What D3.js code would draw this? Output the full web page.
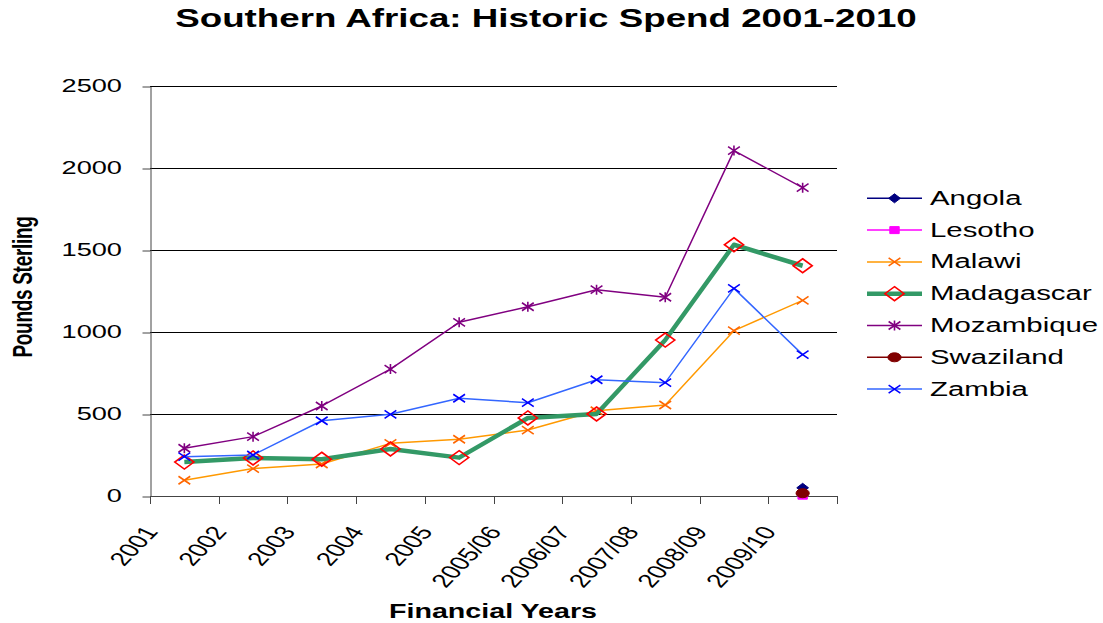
<!DOCTYPE html>
<html>
<head>
<meta charset="utf-8">
<script src="https://cdn.jsdelivr.net/npm/d3@7"></script>
<style>
  html, body { margin: 0; padding: 0; background: #fff; }
  svg { display: block; font-family: "Liberation Sans", Arial, sans-serif; }
</style>
</head>
<body>
<svg id="chart" width="1103" height="623"></svg>
<script>
// Financial years on the category axis
const categories = ["2001", "2002", "2003", "2004", "2005", "2005/06", "2006/07", "2007/08", "2008/09", "2009/10"];

// Spend per country (Pounds Sterling); null = no spend recorded
const angola     = [null, null, null, null, null, null, null, null, null, 50];
const lesotho    = [null, null, null, null, null, null, null, null, null, 2];
const malawi     = [96, 167, 195, 321, 346, 402, 520, 555, 1008, 1193];
const madagascar = [207, 232, 224, 287, 234, 476, 500, 951, 1532, 1404];
const mozambique = [291, 362, 549, 774, 1059, 1154, 1258, 1212, 2106, 1880];
const swaziland  = [null, null, null, null, null, null, null, null, null, 17];
const zambia     = [240, 250, 459, 498, 596, 569, 709, 691, 1266, 862];

const yTicks = [0, 500, 1000, 1500, 2000, 2500];

const seriesNames = ["Angola", "Lesotho", "Malawi", "Madagascar", "Mozambique", "Swaziland", "Zambia"];
const seriesValues = [angola, lesotho, malawi, madagascar, mozambique, swaziland, zambia];

// Styling for each series: line colour/width and marker
const styles = {
  Angola:     { line: "#000080", width: 1.5, marker: "diamondFilled", mColor: "#000080" },
  Lesotho:    { line: "#FF00FF", width: 1.5, marker: "square",        mColor: "#FF00FF" },
  Malawi:     { line: "#FF9900", width: 1.5, marker: "cross",         mColor: "#FF6600" },
  Madagascar: { line: "#339966", width: 4.5, marker: "diamondOpen",   mColor: "#FF0000" },
  Mozambique: { line: "#800080", width: 1.5, marker: "star",          mColor: "#800080" },
  Swaziland:  { line: "#800000", width: 1.5, marker: "circle",        mColor: "#800000" },
  Zambia:     { line: "#3366FF", width: 1.5, marker: "cross",         mColor: "#0000FF" }
};

// The whole drawing is horizontally widened; text and markers follow that
const SX = 1.47;

const svg = d3.select("#chart");
const plot = { left: 150, right: 837, top: 86, bottom: 496 };

const x = d3.scaleBand().domain(categories).range([plot.left, plot.right]).paddingInner(0).paddingOuter(0);
const y = d3.scaleLinear().domain([0, 2500]).range([plot.bottom, plot.top]);
const cx = c => x(c) + x.bandwidth() / 2;

function place(sel, px, py, rot) {
  return sel.attr("transform", `translate(${px},${py}) scale(${SX},1)` + (rot ? ` rotate(${rot})` : ""));
}

// Horizontal gridlines
svg.append("g")
  .selectAll("line")
  .data(yTicks.filter(t => t > 0))
  .join("line")
  .attr("x1", plot.left).attr("x2", plot.right)
  .attr("y1", d => Math.round(y(d)) + 0.5).attr("y2", d => Math.round(y(d)) + 0.5)
  .attr("stroke", "#000").attr("stroke-width", 1);

// Y axis
const yAxis = d3.axisLeft(y).tickValues(yTicks).tickSize(8).tickSizeOuter(0).tickFormat(d3.format("d"));
const yG = svg.append("g").attr("transform", `translate(${plot.left + 0.5},0.5)`).call(yAxis);
yG.select(".domain").attr("stroke", "#444");
yG.selectAll(".tick line").attr("stroke", "#444");
yG.selectAll(".tick text").remove();
svg.append("g")
  .selectAll("text")
  .data(yTicks)
  .join("text")
  .attr("text-anchor", "end")
  .attr("dy", "0.35em")
  .attr("font-size", 18.5)
  .attr("fill", "#000")
  .text(d => d)
  .each(function (d) { place(d3.select(this), 122, y(d)); });

// X axis: ticks at category boundaries, labels rotated at each boundary
const tickPos = categories.map(c => x(c)).concat([plot.right]);
svg.append("line")
  .attr("x1", plot.left).attr("x2", plot.right)
  .attr("y1", plot.bottom + 0.5).attr("y2", plot.bottom + 0.5)
  .attr("stroke", "#444");
svg.append("g")
  .selectAll("line")
  .data(tickPos)
  .join("line")
  .attr("x1", d => Math.round(d) + 0.5).attr("x2", d => Math.round(d) + 0.5)
  .attr("y1", plot.bottom).attr("y2", plot.bottom + 8)
  .attr("stroke", "#444");

const labelAngle = -Math.atan(SX) * 180 / Math.PI;
svg.append("g")
  .selectAll("text")
  .data(categories)
  .join("text")
  .attr("text-anchor", "end")
  .attr("font-size", 19)
  .attr("fill", "#000")
  .text(d => d)
  .each(function (d) { place(d3.select(this), x(d) + 9, plot.bottom + 36, labelAngle); });

// Marker shapes (local units, widened by SX)
const markerPath = {
  cross: "M-4,-4L4,4M-4,4L4,-4",
  star: "M-4,-4L4,4M-4,4L4,-4M0,-5L0,5",
  diamondOpen: "M0,-7L6.5,0L0,7L-6.5,0Z",
  diamondFilled: "M0,-4.5L4,0L0,4.5L-4,0Z",
  square: "M-3.2,-3.5H3.2V3.5H-3.2Z"
};

function drawMarker(g, kind, color, px, py) {
  const m = g.append("g");
  place(m, px, py);
  if (kind === "circle") {
    m.append("circle").attr("r", 4.5).attr("fill", color).attr("stroke", color)
      .attr("vector-effect", "non-scaling-stroke");
  } else if (kind === "cross" || kind === "star" || kind === "diamondOpen") {
    m.append("path").attr("d", markerPath[kind]).attr("fill", "none").attr("stroke", color)
      .attr("stroke-width", 1.6).attr("vector-effect", "non-scaling-stroke");
  } else {
    m.append("path").attr("d", markerPath[kind]).attr("fill", color).attr("stroke", color)
      .attr("stroke-width", 1).attr("vector-effect", "non-scaling-stroke");
  }
}

// Series lines and markers
const line = d3.line()
  .defined(d => d.v != null)
  .x(d => cx(d.c))
  .y(d => y(d.v));

const seriesG = svg.append("g");
seriesNames.forEach((name, i) => {
  const st = styles[name];
  const pts = categories.map((c, j) => ({ c, v: seriesValues[i][j] }));
  const g = seriesG.append("g");
  g.append("path")
    .datum(pts)
    .attr("d", line)
    .attr("fill", "none")
    .attr("stroke", st.line)
    .attr("stroke-width", st.width)
    .attr("stroke-linejoin", "round");
  pts.filter(p => p.v != null).forEach(p => drawMarker(g, st.marker, st.mColor, cx(p.c), y(p.v)));
});

// Legend
const legend = svg.append("g");
seriesNames.forEach((name, i) => {
  const st = styles[name];
  const ry = 198.3 + i * 31.8;
  legend.append("line")
    .attr("x1", 867).attr("x2", 922).attr("y1", ry).attr("y2", ry)
    .attr("stroke", st.line).attr("stroke-width", st.width);
  drawMarker(legend, st.marker, st.mColor, 894.5, ry);
  place(legend.append("text")
    .attr("font-size", 20)
    .attr("fill", "#000")
    .text(name), 930, ry + 6.5);
});

// Titles
place(svg.append("text")
  .attr("text-anchor", "middle")
  .attr("font-size", 25)
  .attr("font-weight", "bold")
  .text("Southern Africa: Historic Spend 2001-2010"), 546, 27);

place(svg.append("text")
  .attr("text-anchor", "middle")
  .attr("font-size", 19.5)
  .attr("font-weight", "bold")
  .text("Financial Years"), 493, 618);

place(svg.append("text")
  .attr("text-anchor", "middle")
  .attr("font-size", 19)
  .attr("font-weight", "bold")
  .attr("letter-spacing", -0.3)
  .text("Pounds Sterling"), 32, 287, -90);
</script>
</body>
</html>
